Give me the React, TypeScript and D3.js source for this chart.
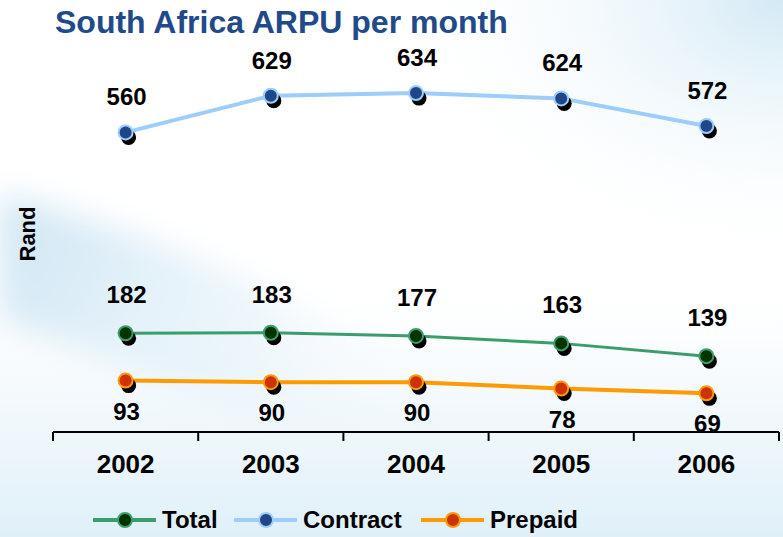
import React from 'react';
import * as d3 from 'd3';

const years = ['2002', '2003', '2004', '2005', '2006'];
const totalValues = [182, 183, 177, 163, 139];
const contractValues = [560, 629, 634, 624, 572];
const prepaidValues = [93, 90, 90, 78, 69];

const W = 783;
const H = 537;
const FONT = 'Arial, "Liberation Sans", Helvetica, sans-serif';

const series = [
  { name: 'Total', values: totalValues, line: '#3A9E6C', fill: '#003300', lw: 3, labelDy: -30 },
  { name: 'Contract', values: contractValues, line: '#9DCDFB', fill: '#1F4788', lw: 4, labelDy: -27 },
  { name: 'Prepaid', values: prepaidValues, line: '#FF9A00', fill: '#CC3300', lw: 4, labelDy: 39 },
];

function Marker({ x, y, fill, stroke }: { x: number; y: number; fill: string; stroke: string }) {
  return (
    <g>
      <circle cx={x + 3} cy={y + 5} r={7.5} fill="#000" />
      <circle cx={x} cy={y} r={7} fill={fill} stroke={stroke} strokeWidth={2} />
    </g>
  );
}

export default function App() {
  const x = d3.scaleBand<string>().domain(years).range([53, 779]);
  const y = d3.scaleLinear().domain([0, 700]).range([430, 58]);
  const cx = (d: string) => (x(d) ?? 0) + x.bandwidth() / 2;
  const axisY = 432;

  const line = d3
    .line<number>()
    .x((_, i) => cx(years[i]))
    .y((v) => y(v));

  const tickXs = [...years.map((d) => x(d) ?? 0), x.range()[1]];

  const legendItems = [
    { s: series[0], x0: 93 },
    { s: series[1], x0: 234 },
    { s: series[2], x0: 421 },
  ];

  return (
    <svg
      width={W}
      height={H}
      style={{ position: 'fixed', left: 0, top: 0, fontFamily: FONT }}
    >
      <defs>
        <linearGradient id="bottomFade" x1="0" y1="0" x2="0" y2="1">
          <stop offset="0" stopColor="#E2F0F8" stopOpacity="0" />
          <stop offset="1" stopColor="#DCEEF8" stopOpacity="1" />
        </linearGradient>
        <radialGradient id="topRight" cx="1" cy="0" r="0.5">
          <stop offset="0" stopColor="#D3E9F5" />
          <stop offset="1" stopColor="#FFFFFF" stopOpacity="0" />
        </radialGradient>
        <linearGradient id="swoosh" x1="0" y1="0" x2="1" y2="0.3">
          <stop offset="0" stopColor="#CBE4F3" stopOpacity="0.95" />
          <stop offset="0.6" stopColor="#E3F1F9" stopOpacity="0.6" />
          <stop offset="1" stopColor="#FFFFFF" stopOpacity="0" />
        </linearGradient>
        <filter id="blur" x="-20%" y="-20%" width="140%" height="140%">
          <feGaussianBlur stdDeviation="16" />
        </filter>
      </defs>

      {/* background */}
      <rect width={W} height={H} fill="#FFFFFF" />
      <rect width={W} height={H} fill="url(#topRight)" />
      <path
        d="M0,195 C150,230 300,300 480,400 L480,490 C320,440 160,380 0,320 Z"
        fill="url(#swoosh)"
        filter="url(#blur)"
      />
      <rect y={300} width={W} height={H - 300} fill="url(#bottomFade)" opacity={0.9} />

      {/* title */}
      <text x={55} y={33} fontSize={32} fontWeight="bold" fill="#214A8A">
        South Africa ARPU per month
      </text>

      {/* y label */}
      <text
        transform="translate(35,234) rotate(-90)"
        textAnchor="middle"
        fontSize={22}
        fontWeight="bold"
        fill="#000"
      >
        Rand
      </text>

      {/* x axis */}
      <line x1={x.range()[0]} x2={x.range()[1]} y1={axisY} y2={axisY} stroke="#000" strokeWidth={2} />
      {tickXs.map((t, i) => (
        <line key={i} x1={t} x2={t} y1={axisY} y2={axisY + 9} stroke="#000" strokeWidth={2} />
      ))}
      {years.map((d) => (
        <text key={d} x={cx(d)} y={473} textAnchor="middle" fontSize={26} fontWeight="bold" fill="#000">
          {d}
        </text>
      ))}

      {/* series */}
      {series.map((s) => (
        <g key={s.name}>
          <path d={line(s.values) ?? ''} fill="none" stroke={s.line} strokeWidth={s.lw} strokeLinejoin="round" />
          {s.values.map((v, i) => (
            <Marker key={i} x={cx(years[i])} y={y(v)} fill={s.fill} stroke={s.line} />
          ))}
          {s.values.map((v, i) => (
            <text
              key={'l' + i}
              x={cx(years[i]) + 1}
              y={y(v) + s.labelDy}
              textAnchor="middle"
              fontSize={24}
              fontWeight="bold"
              fill="#000"
            >
              {v}
            </text>
          ))}
        </g>
      ))}

      {/* legend */}
      {legendItems.map(({ s, x0 }) => (
        <g key={s.name}>
          <line x1={x0} x2={x0 + 63} y1={520} y2={520} stroke={s.line} strokeWidth={4} />
          <circle cx={x0 + 32} cy={520} r={7} fill={s.fill} stroke={s.line} strokeWidth={2} />
          <text x={x0 + 69} y={528} fontSize={24} fontWeight="bold" fill="#000">
            {s.name}
          </text>
        </g>
      ))}
    </svg>
  );
}
